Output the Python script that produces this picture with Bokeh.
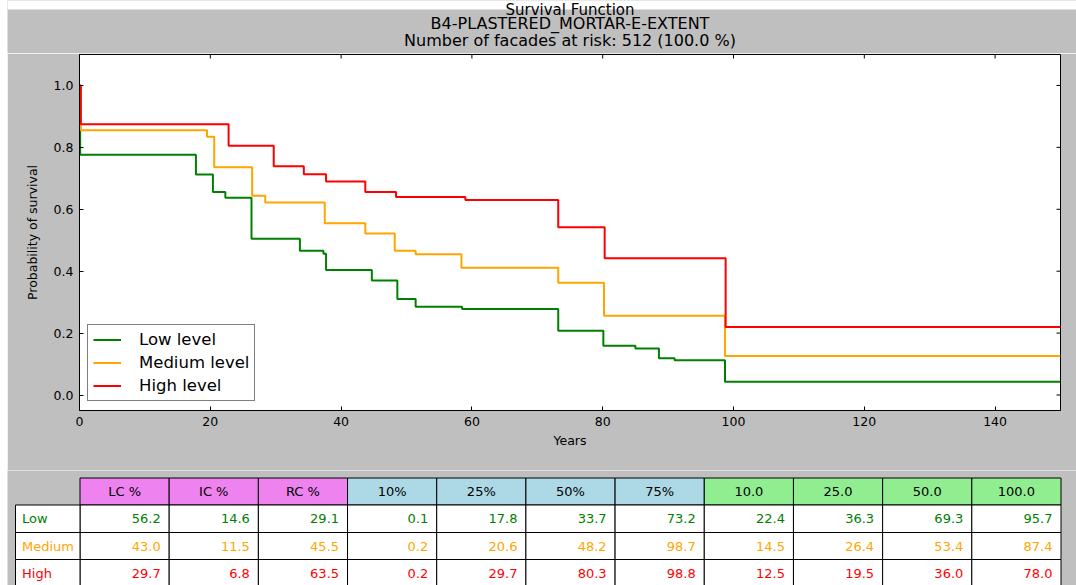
import math
from bokeh.plotting import figure
from bokeh.models import Range1d, FixedTicker, PrintfTickFormatter, Legend, LegendItem, ColumnDataSource
from bokeh.layouts import column
from bokeh.embed import file_html
from bokeh.resources import INLINE
from bokeh.core.properties import value

# ---------------- data ----------------
title_lines = ["Survival Function",
               "B4-PLASTERED_MORTAR-E-EXTENT",
               "Number of facades at risk: 512 (100.0 %)"]
x_label = "Years"
y_label = "Probability of survival"

low_years = [0, 0.1, 17.8, 20.4, 22.3, 26.3, 33.7, 37.3, 37.7, 44.7, 48.6, 51.4, 58.5, 73.2, 80.1, 85.0, 88.6, 91.0, 98.7]
low_survival = [1.0, 0.776, 0.712, 0.656, 0.637, 0.505, 0.466, 0.456, 0.404, 0.370, 0.310, 0.285, 0.278, 0.2075, 0.159, 0.150, 0.119, 0.1125, 0.043]

medium_years = [0, 0.2, 19.5, 20.6, 26.4, 28.4, 37.5, 43.7, 48.2, 51.4, 58.4, 73.2, 80.2, 98.7]
medium_survival = [1.0, 0.855, 0.834, 0.736, 0.644, 0.622, 0.555, 0.522, 0.466, 0.455, 0.411, 0.363, 0.256, 0.126]

high_years = [0, 0.2, 22.8, 29.7, 34.3, 37.7, 43.7, 48.4, 59.0, 73.2, 80.3, 98.8]
high_survival = [1.0, 0.875, 0.805, 0.739, 0.713, 0.690, 0.656, 0.640, 0.630, 0.542, 0.442, 0.220]

series_names = ["Low level", "Medium level", "High level"]
series_colors = ["green", "orange", "red"]

x_ticks = [0, 20, 40, 60, 80, 100, 120, 140]
y_ticks = [0.0, 0.2, 0.4, 0.6, 0.8, 1.0]
X_START, X_END = 0, 150
Y_START, Y_END = -0.05, 1.1

table_headers = ["LC %", "IC %", "RC %", "10%", "25%", "50%", "75%", "10.0", "25.0", "50.0", "100.0"]
table_header_colors = ["violet"] * 3 + ["lightblue"] * 4 + ["lightgreen"] * 4
row_labels = ["Low", "Medium", "High"]
row_colors = ["green", "orange", "red"]
low_row = [56.2, 14.6, 29.1, 0.1, 17.8, 33.7, 73.2, 22.4, 36.3, 69.3, 95.7]
medium_row = [43.0, 11.5, 45.5, 0.2, 20.6, 48.2, 98.7, 14.5, 26.4, 53.4, 87.4]
high_row = [29.7, 6.8, 63.5, 0.2, 29.7, 80.3, 98.8, 12.5, 19.5, 36.0, 78.0]
table_rows = [low_row, medium_row, high_row]

# ---------------- style / layout ----------------
FONT = "DejaVu Sans"
GREY = "#bfbfbf"
W = 1069                # canvas width (page x 7 .. 1076)
H_TITLE = 53
H_PLOT = 417
H_TABLE = 115
FRAME_LEFT = 72         # canvas px
FRAME_RIGHT = 1053      # canvas px
TOP_STRIP = 9           # white strip at the very top
TITLE_MIDDLES = [9.5, 22.5, 39.5]
TITLE_SIZES = ["15px", "16px", "16px"]


def canvas_figure(height):
    f = figure(width=W, height=height, x_range=Range1d(0, W), y_range=Range1d(height, 0),
               output_backend="svg", toolbar_location=None, min_border=0,
               x_axis_location=None, y_axis_location=None, frame_align=False,
               background_fill_color=GREY, border_fill_color=GREY, outline_line_color=None)
    f.grid.visible = False
    return f


# ---- title strip ----
tt = canvas_figure(H_TITLE)
tt.quad(left=[0], right=[W], top=[0], bottom=[TOP_STRIP], fill_color="white", line_color=None)
title_src = ColumnDataSource(dict(x=[(FRAME_LEFT + FRAME_RIGHT) / 2] * 3, y=TITLE_MIDDLES,
                                  text=title_lines, size=TITLE_SIZES))
tt.text(x="x", y="y", text="text", source=title_src, text_align="center", text_baseline="middle",
        text_font=value(FONT), text_font_size="size", text_color="black")

# ---- main plot ----
p = figure(width=W, height=H_PLOT,
           x_range=Range1d(X_START, X_END), y_range=Range1d(Y_START, Y_END),
           output_backend="svg", toolbar_location=None, frame_align=False,
           min_border_left=FRAME_LEFT, min_border_right=W - FRAME_RIGHT,
           min_border_top=1, min_border_bottom=60,
           background_fill_color="white", border_fill_color=GREY,
           outline_line_color="black", outline_line_width=1)
p.grid.visible = False

for ax, ticks in ((p.xaxis[0], x_ticks), (p.yaxis[0], y_ticks)):
    ax.ticker = FixedTicker(ticks=ticks)
    ax.major_tick_in = 4
    ax.major_tick_out = 0
    ax.minor_tick_line_color = None
    ax.major_tick_line_color = "black"
    ax.axis_line_color = "black"
    ax.major_label_text_font = FONT
    ax.major_label_text_color = "black"
    ax.major_label_text_font_size = "12.5px"
    ax.major_label_standoff = 6
    ax.axis_label_text_font = FONT
    ax.axis_label_text_font_size = "12.5px"
    ax.axis_label_text_font_style = "normal"
    ax.axis_label_text_color = "black"
p.yaxis[0].formatter = PrintfTickFormatter(format="%.1f")
p.xaxis[0].axis_label = x_label
p.yaxis[0].axis_label = y_label
p.xaxis[0].axis_label_standoff = 4
p.yaxis[0].axis_label_standoff = 11

# inward ticks on the top and right frame edges (half of each dash is clipped by the frame)
p.scatter(x=x_ticks, y=[Y_END] * len(x_ticks), marker="dash", size=8, angle=math.pi / 2,
          line_color="black", line_width=1)
p.scatter(x=[X_END] * len(y_ticks), y=y_ticks, marker="dash", size=8,
          line_color="black", line_width=1)

renderers = []
for years, surv, color in zip([low_years, medium_years, high_years],
                              [low_survival, medium_survival, high_survival],
                              series_colors):
    xs = list(years) + [X_END]
    ys = list(surv) + [surv[-1]]
    renderers.append(p.step(xs, ys, mode="after", line_color=color, line_width=2))

legend = Legend(items=[LegendItem(label=n, renderers=[r]) for n, r in zip(series_names, renderers)],
                location=(8, 9), margin=0, padding=5, spacing=4,
                glyph_width=28, glyph_height=19, label_height=19, label_standoff=18,
                label_text_font=FONT, label_text_font_size="16.5px", label_text_color="black",
                border_line_color="black", border_line_width=1,
                background_fill_color="white", background_fill_alpha=1.0)
p.add_layout(legend)

# ---- table ----
t = canvas_figure(H_TABLE)

LABEL_LEFT = 8
DATA_LEFT = 72.5
DATA_RIGHT = 1053.5
CW = (DATA_RIGHT - DATA_LEFT) / len(table_headers)
ROW_EDGES = [7.5, 34.5, 62, 89, 116.5]

hl = [DATA_LEFT + j * CW for j in range(len(table_headers))]
hsrc = ColumnDataSource(dict(left=hl, right=[v + CW for v in hl],
                             top=[ROW_EDGES[0]] * len(hl), bottom=[ROW_EDGES[1]] * len(hl),
                             fill=table_header_colors, text=table_headers,
                             xc=[v + CW / 2 for v in hl],
                             yc=[(ROW_EDGES[0] + ROW_EDGES[1]) / 2] * len(hl)))
t.quad(left="left", right="right", top="top", bottom="bottom", fill_color="fill",
       line_color="black", line_width=1, source=hsrc)
t.text(x="xc", y="yc", text="text", source=hsrc, text_align="center", text_baseline="middle",
       text_font=value(FONT), text_font_size="13px", text_color="black")

cl, cr, ct, cb, tx, ty, tx_t, tc = [], [], [], [], [], [], [], []
ll, lr, lt, lb, lx, ly, ltxt, lc = [], [], [], [], [], [], [], []
for i, (lab, col, vals) in enumerate(zip(row_labels, row_colors, table_rows)):
    top, bot = ROW_EDGES[i + 1], ROW_EDGES[i + 2]
    mid = (top + min(bot, ROW_EDGES[i + 1] + 27)) / 2
    ll.append(LABEL_LEFT); lr.append(DATA_LEFT); lt.append(top); lb.append(bot)
    lx.append(LABEL_LEFT + 6.5); ly.append(mid); ltxt.append(lab); lc.append(col)
    for j, v in enumerate(vals):
        left = DATA_LEFT + j * CW
        cl.append(left); cr.append(left + CW); ct.append(top); cb.append(bot)
        tx.append(left + CW - 8.5); ty.append(mid); tx_t.append("%.1f" % v); tc.append(col)

bsrc = ColumnDataSource(dict(left=cl, right=cr, top=ct, bottom=cb, x=tx, y=ty, text=tx_t, color=tc))
lsrc = ColumnDataSource(dict(left=ll, right=lr, top=lt, bottom=lb, x=lx, y=ly, text=ltxt, color=lc))
for src in (bsrc, lsrc):
    t.quad(left="left", right="right", top="top", bottom="bottom", fill_color="white",
           line_color="black", line_width=1, source=src)
t.text(x="x", y="y", text="text", text_color="color", source=bsrc, text_align="right",
       text_baseline="middle", text_font=value(FONT), text_font_size="13px")
t.text(x="x", y="y", text="text", text_color="color", source=lsrc, text_align="left",
       text_baseline="middle", text_font=value(FONT), text_font_size="13px")

layout = column(tt, p, t, margin=(0, 0, 0, 7))
open("out.html", "w").write(file_html(layout, INLINE))
